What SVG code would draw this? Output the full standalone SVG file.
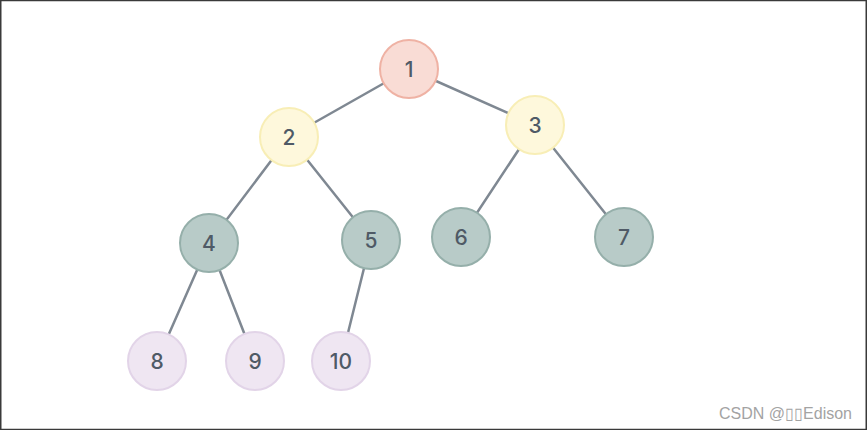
<svg xmlns="http://www.w3.org/2000/svg" width="867" height="430" viewBox="0 0 867 430">
<style>
.e{stroke:#7f8892;stroke-width:2.5;fill:none;stroke-linecap:round}
.n circle{stroke-width:2}
.t{font-family:Inter,"Open Sans","Liberation Sans",sans-serif;font-size:21px;font-weight:500;fill:#4f5a66;text-anchor:middle;dominant-baseline:central}
.r circle{fill:#f9dcd5;stroke:#efb2a4}
.y circle{fill:#fef8dc;stroke:#f8eeb6}
.g circle{fill:#b8cbc8;stroke:#95afaa}
.p circle{fill:#efe6f2;stroke:#e2d4e8}
</style>
<rect x="0.75" y="0.5" width="865.5" height="429" fill="#fff" stroke="#3a3a3a" stroke-width="1.5"/>
<g id="edges">
<line class="e" x1="409" y1="69" x2="289" y2="137"/>
<line class="e" x1="409" y1="69" x2="535" y2="125"/>
<line class="e" x1="289" y1="137" x2="209" y2="243"/>
<line class="e" x1="289" y1="137" x2="371" y2="240"/>
<line class="e" x1="535" y1="125" x2="461" y2="237"/>
<line class="e" x1="535" y1="125" x2="624" y2="237"/>
<line class="e" x1="209" y1="243" x2="157" y2="361"/>
<line class="e" x1="209" y1="243" x2="255" y2="361"/>
<line class="e" x1="371" y1="240" x2="341" y2="361"/>
</g>
<g id="n1" class="n r"><circle cx="409" cy="69" r="29"/><text class="t" x="409" y="69">1</text></g>
<g id="n2" class="n y"><circle cx="289" cy="137" r="29"/><text class="t" x="289" y="137">2</text></g>
<g id="n3" class="n y"><circle cx="535" cy="125" r="29"/><text class="t" x="535" y="125">3</text></g>
<g id="n4" class="n g"><circle cx="209" cy="243" r="29"/><text class="t" x="209" y="243">4</text></g>
<g id="n5" class="n g"><circle cx="371" cy="240" r="29"/><text class="t" x="371" y="240">5</text></g>
<g id="n6" class="n g"><circle cx="461" cy="237" r="29"/><text class="t" x="461" y="237">6</text></g>
<g id="n7" class="n g"><circle cx="624" cy="237" r="29"/><text class="t" x="624" y="237">7</text></g>
<g id="n8" class="n p"><circle cx="157" cy="361" r="29"/><text class="t" x="157" y="361">8</text></g>
<g id="n9" class="n p"><circle cx="255" cy="361" r="29"/><text class="t" x="255" y="361">9</text></g>
<g id="n10" class="n p"><circle cx="341" cy="361" r="29"/><text class="t" x="341" y="361">10</text></g>
<text x="852" y="419" font-family="'Liberation Sans',Arial,sans-serif" font-size="16" fill="#a3a3a3" text-anchor="end">CSDN @▯▯Edison</text>
</svg>
